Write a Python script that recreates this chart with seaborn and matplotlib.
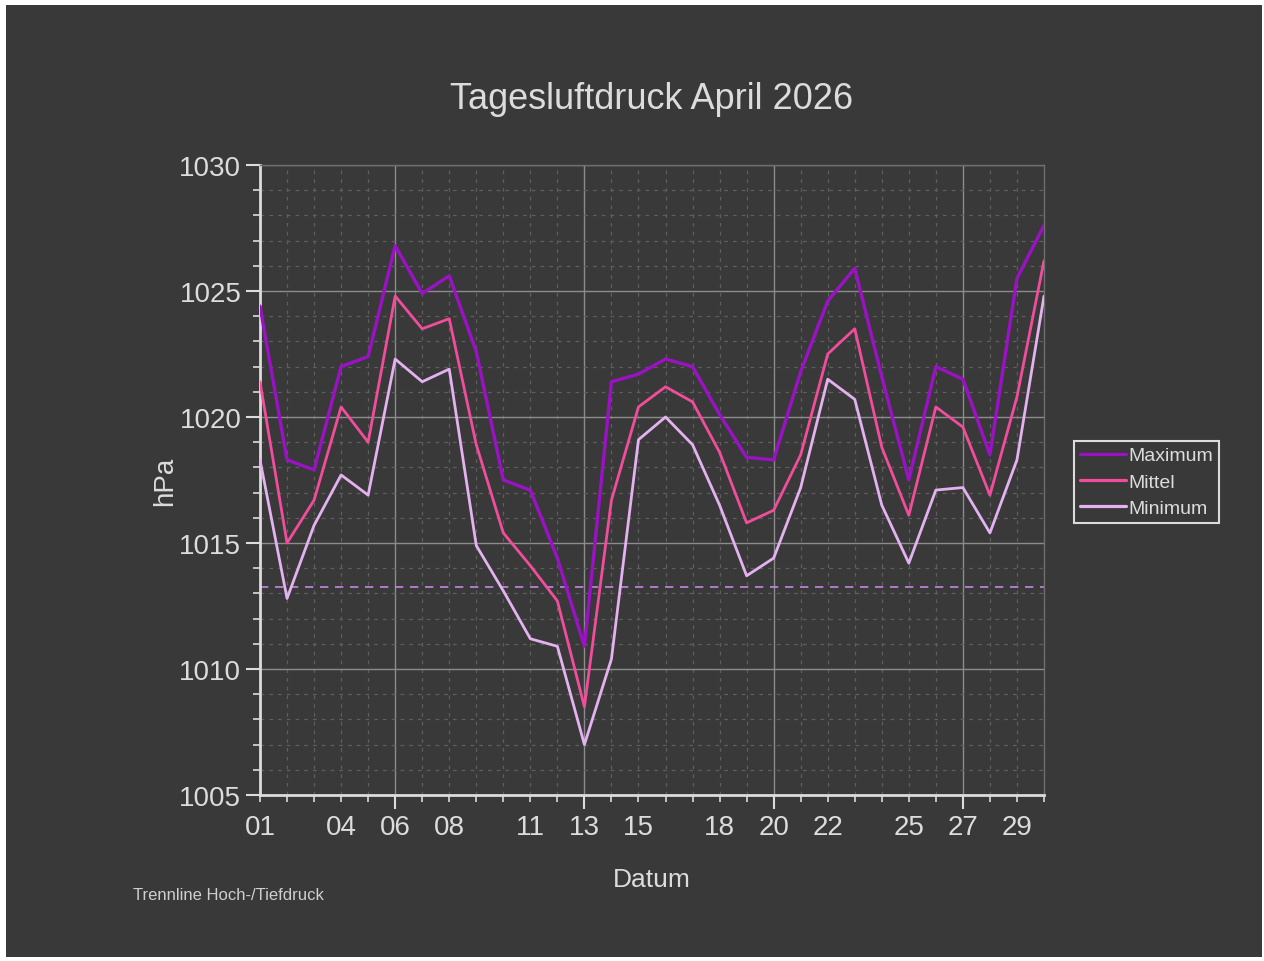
import numpy as np
import pandas as pd
import matplotlib
matplotlib.use('Agg')
import matplotlib.pyplot as plt
import matplotlib.ticker as ticker
from matplotlib.patches import Rectangle
from matplotlib.lines import Line2D
import seaborn as sns

# Tageswerte Luftdruck April 2026 (hPa)
tage = list(range(1, 31))
maximum = [1024.4, 1018.3, 1017.9, 1022.0, 1022.4, 1026.8, 1024.9, 1025.6, 1022.6, 1017.5,
           1017.1, 1014.4, 1010.9, 1021.4, 1021.7, 1022.3, 1022.0, 1020.1, 1018.4, 1018.3,
           1021.8, 1024.6, 1025.9, 1021.6, 1017.5, 1022.0, 1021.5, 1018.5, 1025.5, 1027.6]
mittel = [1021.4, 1015.0, 1016.7, 1020.4, 1019.0, 1024.8, 1023.5, 1023.9, 1018.9, 1015.4,
          1014.1, 1012.7, 1008.5, 1016.7, 1020.4, 1021.2, 1020.6, 1018.6, 1015.8, 1016.3,
          1018.5, 1022.5, 1023.5, 1018.8, 1016.1, 1020.4, 1019.6, 1016.9, 1020.8, 1026.2]
minimum = [1018.3, 1012.8, 1015.7, 1017.7, 1016.9, 1022.3, 1021.4, 1021.9, 1014.9, 1013.1,
           1011.2, 1010.9, 1007.0, 1010.4, 1019.1, 1020.0, 1018.9, 1016.5, 1013.7, 1014.4,
           1017.2, 1021.5, 1020.7, 1016.5, 1014.2, 1017.1, 1017.2, 1015.4, 1018.3, 1024.8]
trennlinie = 1013.25
tick_tage = [1, 4, 6, 8, 11, 13, 15, 18, 20, 22, 25, 27, 29]
wochen_tage = [6, 13, 20, 27]

bg = '#393939'
fg = '#dcdcdc'

df = pd.DataFrame({
    'Tag': tage * 3,
    'hPa': maximum + mittel + minimum,
    'Reihe': ['Maximum'] * 30 + ['Mittel'] * 30 + ['Minimum'] * 30,
})
farben = {'Maximum': '#9a12c4', 'Mittel': '#f24d9c', 'Minimum': '#e4b2f0'}

sns.set_style('dark', {'axes.facecolor': bg, 'figure.facecolor': bg})
plt.rcParams['font.family'] = ['Liberation Sans', 'DejaVu Sans']

fig = plt.figure(figsize=(12.64, 9.62), dpi=100)
fig.patch.set_facecolor('white')
fig.patches.append(Rectangle((6 / 1264, 4 / 962), 1256 / 1264, 952 / 962,
                             transform=fig.transFigure, facecolor=bg, edgecolor='none', zorder=-10))
ax = fig.add_axes([260 / 1264, 1 - 796 / 962, 784 / 1264, 630 / 962])
ax.set_facecolor(bg)

sns.lineplot(data=df, x='Tag', y='hPa', hue='Reihe', palette=farben,
             hue_order=['Maximum', 'Mittel', 'Minimum'], ax=ax, legend=False, zorder=3)
for line, lw in zip(ax.get_lines(), [2.4, 2.0, 2.0]):
    line.set_linewidth(lw)

# Trennlinie Hoch-/Tiefdruck
ax.axhline(trennlinie, color='#c486e0', lw=1.2, ls=(0, (5, 4)), zorder=2)

ax.set_xlim(1, 30)
ax.set_ylim(1005, 1030)

# Achsen / Ticks
ax.xaxis.set_major_locator(ticker.FixedLocator(wochen_tage))
ax.xaxis.set_minor_locator(ticker.MultipleLocator(1))
fmt = lambda v, p: f'{int(round(v)):02d}' if int(round(v)) in tick_tage else ''
ax.xaxis.set_major_formatter(ticker.FuncFormatter(fmt))
ax.xaxis.set_minor_formatter(ticker.FuncFormatter(fmt))
ax.yaxis.set_major_locator(ticker.MultipleLocator(5))
ax.yaxis.set_minor_locator(ticker.MultipleLocator(1))

ax.tick_params(axis='both', which='major', length=10, width=1.5, color=fg,
               labelcolor=fg, labelsize=20, direction='out', bottom=True, left=True)
ax.tick_params(axis='both', which='minor', length=5, width=1.2, color=fg,
               labelcolor=fg, labelsize=20, direction='out', bottom=True, left=True)
ax.tick_params(axis='x', which='major', pad=4)
ax.tick_params(axis='x', which='minor', pad=9)

ax.grid(True, which='major', color='#8c8c8c', lw=1.0, ls='-', zorder=1)
ax.grid(True, which='minor', color='#5e5e5e', lw=0.9, ls=(0, (3, 4)), zorder=1)
ax.set_axisbelow(True)

for s in ['left', 'bottom']:
    ax.spines[s].set_color(fg)
    ax.spines[s].set_linewidth(2)
for s in ['top', 'right']:
    ax.spines[s].set_color('#6e6e6e')
    ax.spines[s].set_linewidth(1)

ax.set_xlabel('Datum', color=fg, fontsize=19, labelpad=19)
ax.set_ylabel('hPa', color=fg, fontsize=20, labelpad=1)
ax.set_title('Tagesluftdruck April 2026', color=fg, fontsize=26, pad=41)

# Legende
handles = [Line2D([], [], color=farben[k], lw=2.3) for k in farben]
leg = ax.legend(handles, list(farben), loc='center left', bbox_to_anchor=(1.038, 0.497),
                fontsize=14, frameon=True, fancybox=False, framealpha=1,
                facecolor=bg, edgecolor=fg, labelcolor=fg, handlelength=2.4,
                handletextpad=0.1, borderpad=0.3, labelspacing=0.45, borderaxespad=0)
leg.get_frame().set_linewidth(1.5)

fig.text(133 / 1264, 1 - 896 / 962, 'Trennline Hoch-/Tiefdruck', color='#cfcfcf',
         fontsize=12, va='center', ha='left')

fig.savefig('out.png', dpi=100, facecolor=fig.get_facecolor())
